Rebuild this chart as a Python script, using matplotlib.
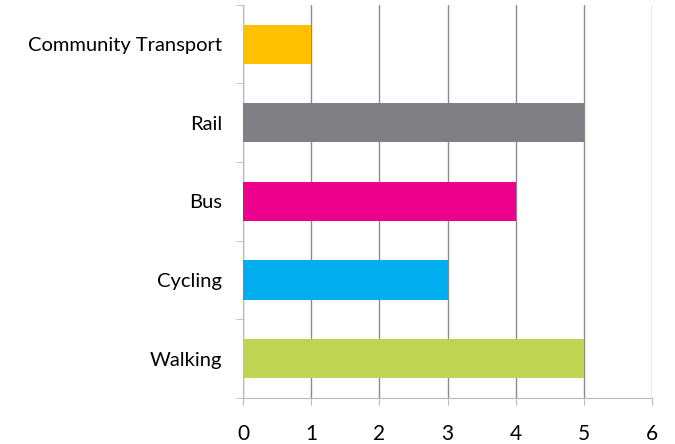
import matplotlib.pyplot as plt
import numpy as np

categories = ['Walking', 'Cycling', 'Bus', 'Rail', 'Community Transport']
values = [5, 3, 4, 5, 1]
colors = ['#bfd452', '#00aeef', '#ec008c', '#808084', '#ffc000']

plt.rcParams['font.family'] = ['Lato', 'DejaVu Sans']

fig = plt.figure(figsize=(6.75, 4.44), dpi=100)
ax = fig.add_axes([0.36, 0.104, 0.606, 0.885])

y_pos = np.arange(len(categories))
ax.barh(y_pos, values, height=0.5, color=colors, zorder=3)

ax.set_xlim(0, 6)
ax.set_ylim(-0.5, len(categories) - 0.5)
ax.set_xticks(range(0, 7))
ax.tick_params(axis='x', labelsize=15, length=5, color='#bbbbbb', pad=14)
ax.set_yticks(y_pos)
ax.set_yticklabels(categories)
ax.tick_params(axis='y', which='major', length=0, labelsize=14.5, pad=15)
ax.set_yticks(np.arange(-0.5, len(categories), 1), minor=True)
ax.tick_params(axis='y', which='minor', length=5, color='#bbbbbb')

ax.grid(axis='x', color='#8a8a8a', linewidth=1, zorder=0)
for s in ['top', 'right']:
    ax.spines[s].set_visible(False)
ax.spines['left'].set_color('#bbbbbb')
ax.spines['bottom'].set_color('#bbbbbb')

plt.savefig('out.png')
